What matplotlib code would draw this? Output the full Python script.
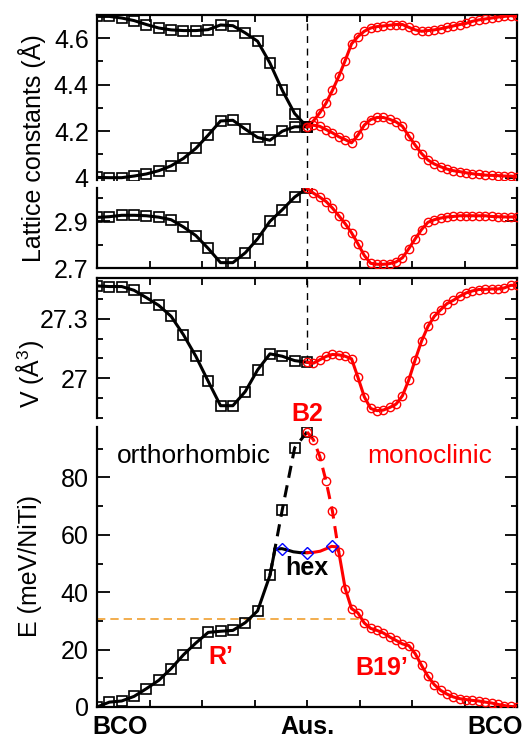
import numpy as np
import matplotlib
matplotlib.use("Agg")
import matplotlib.pyplot as plt
from matplotlib.ticker import FixedLocator, FixedFormatter

plt.rcParams['font.family'] = ['Liberation Sans', 'DejaVu Sans']
plt.rcParams['mathtext.fontset'] = 'custom'
plt.rcParams['mathtext.rm'] = 'Liberation Sans'

# ---------------- data ----------------
# black (orthorhombic) path: BCO (0) -> Aus. (4)
a_black = [4.694, 4.694, 4.687, 4.676, 4.659, 4.644, 4.636, 4.633, 4.633, 4.637,
           4.657, 4.654, 4.623, 4.587, 4.493, 4.376, 4.276, 4.219]
b_black = [4.001, 4.000, 4.000, 4.007, 4.016, 4.030, 4.051, 4.083, 4.126, 4.183,
           4.244, 4.247, 4.209, 4.173, 4.161, 4.200, 4.219, 4.219]
c_black = [2.917, 2.920, 2.926, 2.926, 2.924, 2.918, 2.907, 2.876, 2.839, 2.784,
           2.723, 2.723, 2.765, 2.825, 2.900, 2.950, 3.004, 3.042]
V_black = [27.465, 27.462, 27.462, 27.443, 27.406, 27.367, 27.312, 27.219, 27.111, 26.985,
           26.862, 26.862, 26.933, 27.042, 27.123, 27.111, 27.089, 27.081]
E_black = [0.0, 1.7, 2.1, 3.7, 6.4, 9.3, 13.4, 18.2, 22.3, 26.0,
           26.4, 26.7, 29.4, 33.5, 45.9, 68.8, 90.3, 95.9]

# red (monoclinic) path: Aus. (4) -> BCO (8)
a_red = [4.219, 4.244, 4.279, 4.321, 4.376, 4.436, 4.504, 4.576, 4.607, 4.630,
         4.644, 4.650, 4.653, 4.656, 4.659, 4.659, 4.647, 4.636, 4.630, 4.633,
         4.636, 4.641, 4.647, 4.653, 4.659, 4.664, 4.673, 4.679, 4.683, 4.687,
         4.691, 4.694, 4.697, 4.694]
b_red = [4.219, 4.226, 4.221, 4.207, 4.193, 4.176, 4.164, 4.150, 4.183, 4.226,
         4.250, 4.259, 4.259, 4.251, 4.240, 4.221, 4.179, 4.140, 4.104, 4.076,
         4.059, 4.047, 4.037, 4.030, 4.026, 4.021, 4.017, 4.014, 4.011, 4.010,
         4.009, 4.007, 4.007, 4.004]
c_red = [3.042, 3.021, 3.004, 2.985, 2.957, 2.924, 2.890, 2.851, 2.804, 2.754,
         2.720, 2.716, 2.716, 2.719, 2.726, 2.744, 2.783, 2.825, 2.865, 2.896,
         2.907, 2.914, 2.919, 2.921, 2.924, 2.924, 2.924, 2.924, 2.924, 2.921,
         2.920, 2.919, 2.919, 2.919]
V_red = [27.081, 27.076, 27.093, 27.110, 27.120, 27.118, 27.111, 27.098, 27.005, 26.907,
         26.848, 26.837, 26.840, 26.853, 26.870, 26.912, 26.992, 27.093, 27.187, 27.261,
         27.312, 27.345, 27.376, 27.393, 27.413, 27.430, 27.440, 27.447, 27.448, 27.450,
         27.450, 27.455, 27.468, 27.468]
E_red = [95.9, 93.2, 87.4, 78.7, 68.2, 54.0, 41.3, 34.3, 32.8, 29.3,
         27.4, 26.7, 25.8, 24.4, 23.2, 22.0, 21.4, 18.6, 14.5, 10.7,
         7.8, 5.8, 4.5, 3.5, 2.9, 2.6, 2.3, 2.1, 1.7, 1.4,
         0.9, 0.5, 0.2, 0.0]

# hexagonal branch
hex_black_x = [3.39, 3.52, 3.63, 3.74, 3.87, 4.0]
hex_black_E = [55.0, 55.2, 54.7, 54.1, 53.8, 53.8]
hex_red_x = [4.0, 4.12, 4.25, 4.37, 4.47, 4.56]
hex_red_E = [53.8, 53.9, 54.3, 55.2, 56.0, 55.8]
hex_pts_x = [3.53, 4.0, 4.48]
hex_pts_E = [55.2, 53.8, 56.0]
junction_black = (3.39, 55.0)
junction_red = (4.56, 55.8)
n_dash_black = 14   # last index of the solid black part
n_dash_red = 5      # index where solid red part restarts

E_ref = 30.6       # orange dashed level
E_ref_xmax = 5.0

x_tick_pos = [0, 4, 8]
x_tick_lab = ['BCO', 'Aus.', 'BCO']

x_black = np.linspace(0, 4, len(a_black))
x_red = np.linspace(4, 8, len(a_red))

# ---------------- layout (pixels) ----------------
W, H = 525, 738
fig = plt.figure(figsize=(W / 100, H / 100), dpi=100)
L, R = 97, 517


def add_ax(top, bottom):
    return fig.add_axes([L / W, 1 - bottom / H, (R - L) / W, (bottom - top) / H])


ax_up = add_ax(15, 180)
ax_lo = add_ax(188, 268)
ax_V = add_ax(278, 418)
ax_E = add_ax(427, 707)

FS = 18
lw = 2.2
sq = dict(marker='s', ms=6.5, mfc='none', mew=1.2)
ci = dict(marker='o', ms=6.0, mfc='none', mew=1.0)


def style(ax, top=False, bottom=False, topsp=True, botsp=True):
    ax.set_xlim(0, 8)
    ax.spines['top'].set_visible(topsp)
    ax.spines['bottom'].set_visible(botsp)
    for s in ax.spines.values():
        s.set_linewidth(1.6)
    ax.xaxis.set_major_locator(FixedLocator(range(9)))
    ax.tick_params(axis='x', which='both', direction='in', top=top, bottom=bottom,
                   labelbottom=False, length=5, width=1.3)
    ax.tick_params(axis='y', which='major', direction='in', left=True, right=True,
                   length=9, width=1.3, labelsize=FS, pad=6)
    ax.tick_params(axis='y', which='minor', direction='in', left=True, right=True,
                   length=4.5, width=1.3)


# ---- lattice constants ----
for ax in (ax_up, ax_lo):
    for yb, yr in ((a_black, a_red), (b_black, b_red), (c_black, c_red)):
        ax.plot(x_black, yb, color='black', lw=lw, **sq, zorder=3)
        ax.plot(x_red, yr, color='red', lw=lw, **ci, zorder=3)
    ax.axvline(4, color='black', lw=1.0, ls=(0, (5, 4)), zorder=1)

ax_up.set_ylim(3.99, 4.7)
style(ax_up, top=True, bottom=False, topsp=True, botsp=False)
ax_up.yaxis.set_major_locator(FixedLocator([4.0, 4.2, 4.4, 4.6]))
ax_up.yaxis.set_major_formatter(FixedFormatter(['4', '4.2', '4.4', '4.6']))
ax_up.yaxis.set_minor_locator(FixedLocator([4.1, 4.3, 4.5]))

ax_lo.set_ylim(2.7, 3.043)
style(ax_lo, top=False, bottom=True, topsp=False, botsp=True)
ax_lo.yaxis.set_major_locator(FixedLocator([2.7, 2.9]))
ax_lo.yaxis.set_major_formatter(FixedFormatter(['2.7', '2.9']))
ax_lo.yaxis.set_minor_locator(FixedLocator([2.8, 3.0]))

# ---- volume ----
ax_V.plot(x_black, V_black, color='black', lw=lw, **sq, zorder=3)
ax_V.plot(x_red, V_red, color='red', lw=lw, **ci, zorder=3)
ax_V.set_ylim(26.8, 27.505)
ax_V.vlines(4, V_black[-1], 27.505, color='black', lw=1.0, linestyles=[(0, (5, 4))], zorder=1)
style(ax_V, top=True, bottom=False, topsp=True, botsp=False)
ax_V.yaxis.set_major_locator(FixedLocator([27.0, 27.3]))
ax_V.yaxis.set_major_formatter(FixedFormatter(['27', '27.3']))
ax_V.yaxis.set_minor_locator(FixedLocator([26.8, 26.9, 27.1, 27.2, 27.4]))

# ---- energy ----
ax_E.plot([0, E_ref_xmax], [E_ref, E_ref], color='#f0a030', lw=1.2, ls=(0, (5, 3)), zorder=1)
xb_solid = list(x_black[:n_dash_black + 1]) + [junction_black[0]]
Eb_solid = list(E_black[:n_dash_black + 1]) + [junction_black[1]]
ax_E.plot(xb_solid, Eb_solid, color='black', lw=lw, zorder=3)
ax_E.plot(x_black[n_dash_black:], E_black[n_dash_black:], color='black', lw=lw,
          ls=(0, (4, 2.5)), zorder=3)
ax_E.plot(x_black, E_black, color='black', lw=0, **sq, zorder=4)

ax_E.plot(x_red[:n_dash_red + 1], E_red[:n_dash_red + 1], color='red', lw=lw,
          ls=(0, (4, 2.5)), zorder=3)
xr_solid = [junction_red[0]] + list(x_red[n_dash_red:])
Er_solid = [junction_red[1]] + list(E_red[n_dash_red:])
ax_E.plot(xr_solid, Er_solid, color='red', lw=lw, zorder=3)
ax_E.plot(x_red, E_red, color='red', lw=0, **ci, zorder=4)

ax_E.plot(hex_black_x, hex_black_E, color='black', lw=lw, zorder=3)
ax_E.plot(hex_red_x, hex_red_E, color='red', lw=lw, zorder=3)
ax_E.plot(hex_pts_x, hex_pts_E, ls='none', marker='D', ms=6, mfc='none', mec='blue',
          mew=1.0, zorder=5)

ax_E.set_ylim(0, 97.6)
style(ax_E, top=False, bottom=True, topsp=False, botsp=True)
ax_E.yaxis.set_major_locator(FixedLocator([0, 20, 40, 60, 80]))
ax_E.yaxis.set_major_formatter(FixedFormatter(['0', '20', '40', '60', '80']))
ax_E.yaxis.set_minor_locator(FixedLocator([10, 30, 50, 70, 90]))
ax_E.tick_params(axis='x', labelbottom=False)
for xp, lab, ha, dx in zip(x_tick_pos, x_tick_lab, ['left', 'center', 'right'], [-3, 0, 4]):
    ax_E.annotate(lab, xy=(xp, 0), xycoords=('data', 'axes fraction'),
                  xytext=(dx, -6), textcoords='offset points',
                  ha=ha, va='top', fontsize=FS, fontweight='bold', annotation_clip=False)

ax_E.text(1.85, 87.4, 'orthorhombic', fontsize=19, ha='center', va='center', color='black')
ax_E.text(6.33, 87.4, 'monoclinic', fontsize=19, ha='center', va='center', color='red')
ax_E.text(4.0, 102.0, 'B2', fontsize=FS, ha='center', va='center', color='red',
          fontweight='bold', clip_on=False)
ax_E.text(4.0, 48.4, 'hex', fontsize=FS, ha='center', va='center', color='black',
          fontweight='bold')
ax_E.text(2.36, 17.3, 'R\u2019', fontsize=FS, ha='center', va='center', color='red',
          fontweight='bold')
ax_E.text(5.42, 13.5, 'B19\u2019', fontsize=FS, ha='center', va='center', color='red',
          fontweight='bold')

# ---- y labels ----
fig.text(32 / W, 1 - 148 / H, 'Lattice constants (\u00c5)', rotation=90, fontsize=FS,
         ha='center', va='center')
fig.text(30 / W, 1 - 374 / H, 'V (\u00c5$^3$)', rotation=90, fontsize=FS,
         ha='center', va='center')
fig.text(30 / W, 1 - 566 / H, 'E (meV/NiTi)', rotation=90, fontsize=FS,
         ha='center', va='center')

fig.savefig('out.png', dpi=100)
